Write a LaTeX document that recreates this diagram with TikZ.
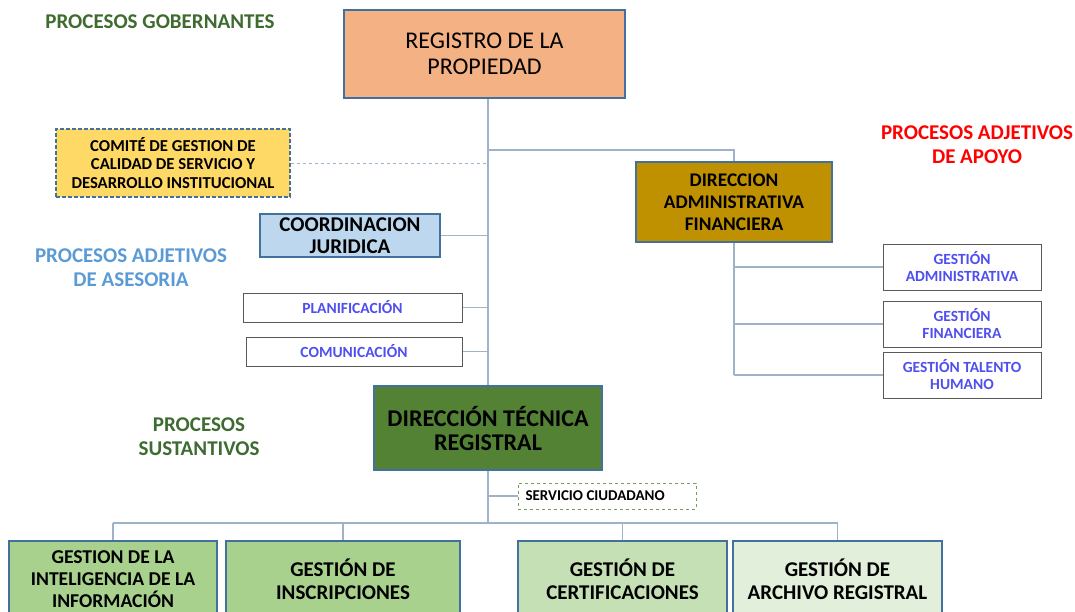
\documentclass[tikz,border=0pt]{standalone}
\usepackage{fontspec}
\setmainfont{Carlito}
\usetikzlibrary{positioning,calc}

\definecolor{bordeazul}{HTML}{41719C}
\definecolor{lineagris}{HTML}{9FB3C8}
\definecolor{naranja}{HTML}{F4B183}
\definecolor{amarillo}{HTML}{FFD966}
\definecolor{celeste}{HTML}{BDD7EE}
\definecolor{dorado}{HTML}{BF9000}
\definecolor{verdeosc}{HTML}{548235}
\definecolor{verdeA}{HTML}{A9D18E}
\definecolor{verdeB}{HTML}{C5E0B4}
\definecolor{verdeC}{HTML}{E2EFDA}
\definecolor{titverde}{HTML}{3E6B30}
\definecolor{titazul}{HTML}{5B9BD5}
\definecolor{textazul}{HTML}{4F4FEF}

\begin{document}
\begin{tikzpicture}[x=1pt,y=-1pt]
%styles de l'organigramme
\tikzset{caja/.style={draw=bordeazul,line width=1.2pt,align=center,inner sep=0pt},
  blanca/.style={draw=black!65,line width=1pt,fill=white,align=center,inner sep=0pt,text=textazul,font=\bfseries\fontsize{15.5}{17}\selectfont},
  linea/.style={draw=lineagris,line width=1.4pt},
  titulo/.style={align=center,font=\bfseries\fontsize{21}{24}\selectfont}}
\useasboundingbox (0,0) rectangle (1075,611);
% titulos
\node[titulo,text=titverde] (tgob) at (160,22) {PROCESOS GOBERNANTES};
\node[titulo,text=red] (tapo) at (977,145) {PROCESOS ADJETIVOS\\DE APOYO};
\node[titulo,text=titazul] (tase) at (131,268) {PROCESOS ADJETIVOS\\DE ASESORIA};
\node[titulo,text=titverde] (tsus) at (199,437) {PROCESOS\\SUSTANTIVOS};
% cajas principales
\node[caja,fill=naranja,minimum width=281,minimum height=88,font=\fontsize{24}{26}\selectfont] (registro) at (484.5,54) {REGISTRO DE LA\\PROPIEDAD};
\node[caja,fill=amarillo,dash pattern=on 4pt off 2pt,minimum width=234,minimum height=68,font=\bfseries\fontsize{16.7}{18.5}\selectfont] (comite) at (173,163) {COMITÉ DE GESTION DE\\CALIDAD DE SERVICIO Y\\DESARROLLO INSTITUCIONAL};
\node[caja,fill=dorado,minimum width=196,minimum height=80,font=\bfseries\fontsize{19.3}{22}\selectfont] (daf) at (734,202) {DIRECCION\\ADMINISTRATIVA\\FINANCIERA};
\node[caja,fill=celeste,minimum width=180,minimum height=43,font=\bfseries\fontsize{21}{22}\selectfont] (coord) at (350,235.5) {COORDINACION\\JURIDICA};
\node[blanca,minimum width=219,minimum height=29] (plan) at (352.5,307.5) {PLANIFICACIÓN};
\node[blanca,minimum width=216,minimum height=29] (comu) at (354,351.5) {COMUNICACIÓN};
\node[blanca,minimum width=158,minimum height=46] (gadm) at (962,267) {GESTIÓN\\ADMINISTRATIVA};
\node[blanca,minimum width=158,minimum height=46] (gfin) at (962,324) {GESTIÓN\\FINANCIERA};
\node[blanca,minimum width=158,minimum height=46] (gtal) at (962,375) {GESTIÓN TALENTO\\HUMANO};
\node[caja,fill=verdeosc,minimum width=228,minimum height=84,font=\bfseries\fontsize{24}{24}\selectfont] (dtr) at (488,428) {DIRECCIÓN TÉCNICA\\REGISTRAL};
\node[draw=verdeosc!80,dashed,line width=0.8pt,text width=163,align=flush left,inner xsep=7.5,inner ysep=0,minimum height=26,font=\bfseries\fontsize{15}{16}\selectfont] (serv) at (607,496) {SERVICIO CIUDADANO};
% procesos sustantivos
\node[caja,fill=verdeA,minimum width=208,minimum height=76,font=\bfseries\fontsize{19.6}{22}\selectfont] (b1) at (113,579) {GESTION DE LA\\INTELIGENCIA DE LA\\INFORMACIÓN};
\node[caja,fill=verdeA,minimum width=234,minimum height=76,font=\bfseries\fontsize{21}{23}\selectfont] (b2) at (343,579) {GESTIÓN DE\\INSCRIPCIONES};
\node[caja,fill=verdeB,minimum width=209,minimum height=76,font=\bfseries\fontsize{21}{23}\selectfont] (b3) at (622.5,579) {GESTIÓN DE\\CERTIFICACIONES};
\node[caja,fill=verdeC,minimum width=209,minimum height=76,font=\bfseries\fontsize{21}{23}\selectfont] (b4) at (837.5,579) {GESTIÓN DE\\ARCHIVO REGISTRAL};
% conectores
\coordinate (bus) at (488,523);
\coordinate (rama) at (488,150);
\draw[linea] (dtr.north |- registro.south) -- (dtr.north);
\draw[linea,dashed,line width=0.8pt] (comite.east) -- (comite.east -| dtr.north);
\draw[linea] (rama) -| (daf.north);
\draw[linea] (coord.east) -- (coord.east -| dtr.north);
\draw[linea] (plan.east) -- (plan.east -| dtr.north);
\draw[linea] (comu.east) -- (comu.east -| dtr.north);
\draw[linea] (daf.south) -- (daf.south |- gtal.west);
\foreach \g in {gadm,gfin,gtal}
  \draw[linea] (daf.south |- \g.west) -- (\g.west);
\draw[linea] (dtr.south) -- (bus);
\draw[linea] (dtr.south |- serv.west) -- (serv.west);
\draw[linea] (b1.north |- bus) -- (b4.north |- bus);
\foreach \b in {b1,b2,b3,b4}
  \draw[linea] (\b.north) -- (\b.north |- bus);
\end{tikzpicture}
\end{document}
